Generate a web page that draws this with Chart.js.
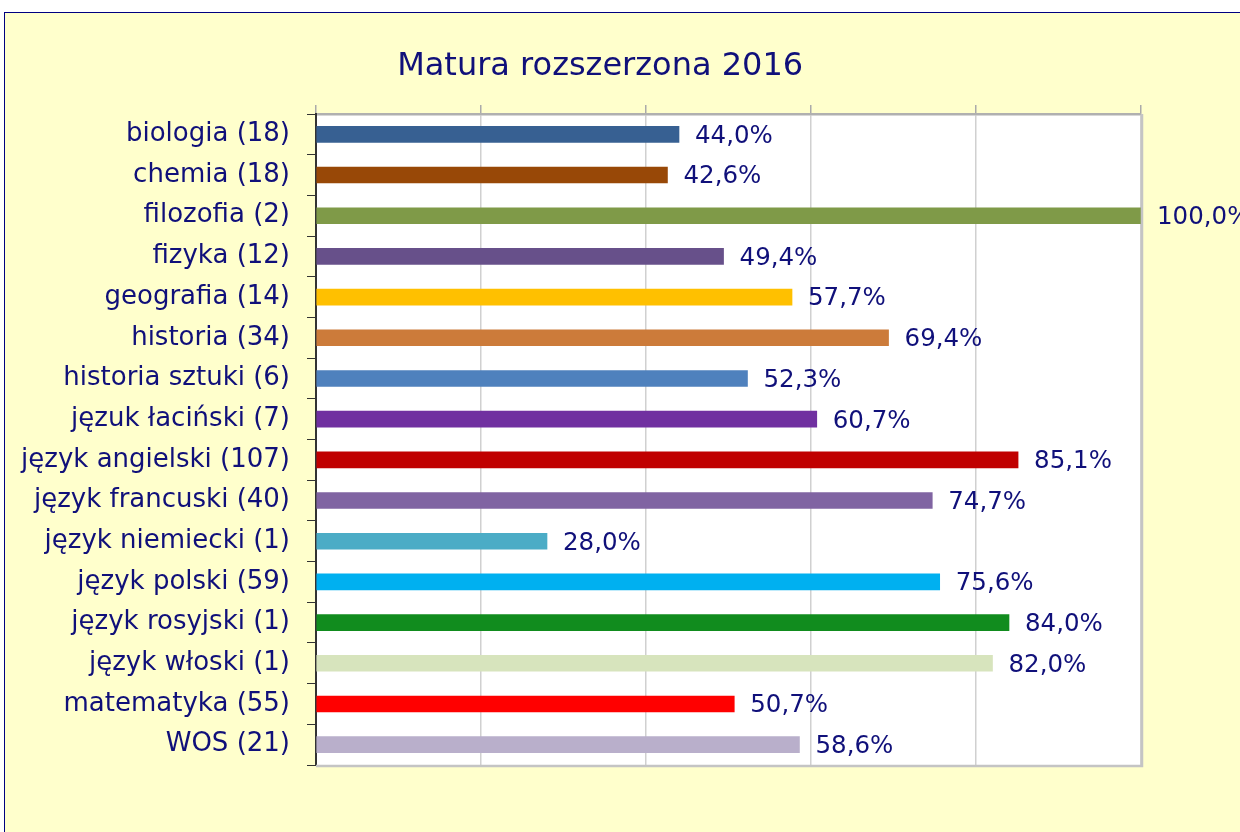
<!DOCTYPE html>
<html>
<head>
<meta charset="utf-8">
<script src="https://cdn.jsdelivr.net/npm/chart.js@4"></script>
<style>
    body { margin: 0; background: #ffffff; }
    #frame {
        position: absolute; left: 4px; top: 12px; width: 1240px; height: 824px;
        background: #ffffcc; border-top: 1.5px solid #000080; border-left: 1.5px solid #000080;
    }
    #wrap { position: absolute; left: 0; top: 0; width: 1236px; height: 820px; }
</style>
</head>
<body>
<div id="frame"><div id="wrap"><canvas id="chart"></canvas></div></div>
<script>
const chartTitle = 'Matura rozszerzona 2016';
const subjects = ['biologia (18)', 'chemia (18)', 'filozofia (2)', 'fizyka (12)', 'geografia (14)',
    'historia (34)', 'historia sztuki (6)', 'jęzuk łaciński (7)', 'język angielski (107)',
    'język francuski (40)', 'język niemiecki (1)', 'język polski (59)', 'język rosyjski (1)',
    'język włoski (1)', 'matematyka (55)', 'WOS (21)'];
const results = [44.0, 42.6, 100.0, 49.4, 57.7, 69.4, 52.3, 60.7, 85.1, 74.7, 28.0, 75.6, 84.0, 82.0, 50.7, 58.6];
const barColors = ['#376092', '#984807', '#7f9a48', '#67508a', '#ffc000', '#cc7b3a', '#4f81bd', '#7030a0',
    '#c00000', '#8064a2', '#4bacc6', '#00b0f0', '#118c1e', '#d7e4bd', '#ff0000', '#b9afcb'];

const navy = '#10107a';
const fontFamily = '"DejaVu Sans", Verdana, sans-serif';

// white plot area + gray frame on bottom/right
const plotArea = {
    id: 'plotArea',
    beforeDraw(chart) {
        const { ctx, chartArea: a } = chart;
        ctx.save();
        ctx.fillStyle = '#ffffff';
        ctx.fillRect(a.left, a.top, a.right - a.left, a.bottom - a.top);
        ctx.restore();
    },
    afterDatasetsDraw(chart) {
        const { ctx, chartArea: a } = chart;
        ctx.save();
        ctx.strokeStyle = '#c4c4c4';
        ctx.lineWidth = 2.5;
        ctx.beginPath();
        ctx.moveTo(a.left, a.bottom + 1);
        ctx.lineTo(a.right + 1, a.bottom + 1);
        ctx.lineTo(a.right + 1, a.top);
        ctx.stroke();
        ctx.restore();
    }
};

// title sits a bit right of the canvas middle, like the original
const titleText = {
    id: 'titleText',
    afterDraw(chart) {
        const { ctx } = chart;
        ctx.save();
        ctx.fillStyle = navy;
        ctx.font = '32px ' + fontFamily;
        ctx.textAlign = 'center';
        ctx.textBaseline = 'middle';
        ctx.fillText(chartTitle, chart.width * 0.4815, 54);
        ctx.restore();
    }
};

// value labels at the end of each bar
const valueLabels = {
    id: 'valueLabels',
    afterDatasetsDraw(chart) {
        const { ctx } = chart;
        const meta = chart.getDatasetMeta(0);
        ctx.save();
        ctx.fillStyle = navy;
        ctx.font = '24.5px ' + fontFamily;
        ctx.textBaseline = 'middle';
        meta.data.forEach((bar, i) => {
            ctx.fillText(results[i].toFixed(1).replace('.', ',') + '%', bar.x + 16, bar.y + 2);
        });
        ctx.restore();
    }
};

const ctx = document.getElementById('chart').getContext('2d');
new Chart(ctx, {
    type: 'bar',
    data: {
        labels: subjects,
        datasets: [{
            data: results,
            backgroundColor: barColors,
            barThickness: 16
        }]
    },
    options: {
        indexAxis: 'y',
        responsive: true,
        maintainAspectRatio: false,
        animation: false,
        layout: { padding: { left: 0, right: 100, bottom: 68, top: 92 } },
        plugins: {
            legend: { display: false },
            tooltip: { enabled: false },
            title: { display: false }
        },
        scales: {
            x: {
                position: 'top',
                min: 0,
                max: 100,
                ticks: { display: false, stepSize: 20 },
                grid: { color: '#d0d0d0', lineWidth: 1.5, tickLength: 9, tickColor: '#aaaaaa' },
                border: { display: true, color: '#b0b0b0', width: 2.5 }
            },
            y: {
                ticks: {
                    color: navy,
                    padding: 17,
                    font: { family: fontFamily, size: 26 }
                },
                grid: { drawOnChartArea: false, tickLength: 9, tickColor: '#333333', offset: true },
                border: { display: true, color: '#333333', width: 2 },
                afterFit(scale) { scale.width = 311; }
            }
        }
    },
    plugins: [plotArea, valueLabels, titleText]
});
</script>
</body>
</html>
